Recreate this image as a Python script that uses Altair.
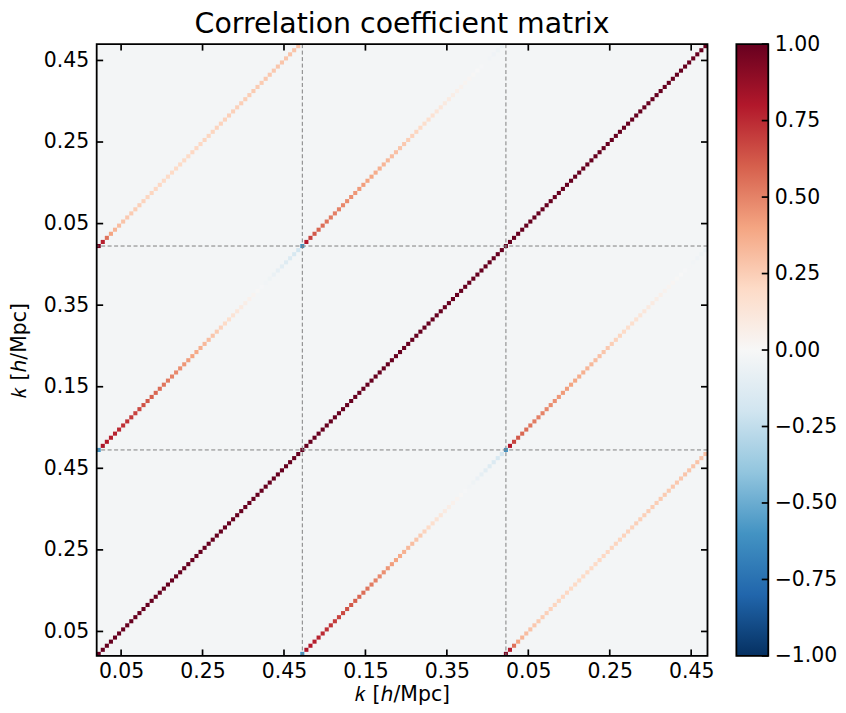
import json
import altair as alt
import pandas as pd

FONT = "DejaVu Sans"

# ---------------- data ----------------
N_BLOCK = 50          # k-bins per multipole block
N_BLOCKS = 3
N_TOTAL = N_BLOCK * N_BLOCKS

# main diagonal (auto-correlation)
diag_main = [1.0] * N_BLOCK

# diagonal of the (block0, block1) cross block
diag_01 = [-0.60, 0.82, 0.80, 0.78, 0.77, 0.75, 0.73, 0.72, 0.70, 0.68,
           0.66, 0.64, 0.62, 0.60, 0.58, 0.56, 0.54, 0.52, 0.50, 0.48,
           0.46, 0.44, 0.42, 0.40, 0.38, 0.36, 0.33, 0.31, 0.28, 0.26,
           0.23, 0.20, 0.17, 0.14, 0.12, 0.09, 0.07, 0.05, 0.03, 0.01,
           -0.01, -0.03, -0.05, -0.07, -0.09, -0.11, -0.13, -0.15, -0.17, -0.19]

# diagonal of the (block0, block2) cross block
diag_02 = [0.95, 0.78, 0.55, 0.40, 0.34, 0.31, 0.29, 0.27, 0.26, 0.25,
           0.24, 0.23, 0.22, 0.22, 0.21, 0.21, 0.20, 0.20, 0.20, 0.20,
           0.20, 0.20, 0.20, 0.21, 0.21, 0.21, 0.22, 0.22, 0.22, 0.23,
           0.23, 0.23, 0.24, 0.24, 0.24, 0.25, 0.25, 0.25, 0.26, 0.26,
           0.26, 0.27, 0.27, 0.27, 0.28, 0.28, 0.28, 0.29, 0.29, 0.30]

# diagonal of the (block1, block2) cross block
diag_12 = [-0.60, 0.80, 0.68, 0.62, 0.58, 0.56, 0.54, 0.52, 0.51, 0.50,
           0.48, 0.47, 0.46, 0.44, 0.43, 0.42, 0.40, 0.39, 0.37, 0.36,
           0.34, 0.33, 0.31, 0.30, 0.28, 0.27, 0.25, 0.23, 0.22, 0.20,
           0.18, 0.17, 0.15, 0.13, 0.12, 0.10, 0.09, 0.07, 0.06, 0.04,
           0.03, 0.02, 0.01, 0.00, -0.01, -0.02, -0.03, -0.04, -0.05, -0.06]

background_value = -0.02

tick_pos = [6, 26, 46, 66, 86, 106, 126, 146]
tick_labels = ["0.05", "0.25", "0.45", "0.15", "0.35", "0.05", "0.25", "0.45"]
block_line_pos = [50.5, 100.5]
cbar_ticks = [-1.0, -0.75, -0.5, -0.25, 0.0, 0.25, 0.5, 0.75, 1.0]

rdbu_domain = [-1.0, -0.8, -0.6, -0.4, -0.2, 0.0, 0.2, 0.4, 0.6, 0.8, 1.0]
rdbu_colors = ["#053061", "#2166ac", "#4393c3", "#92c5de", "#d1e5f0", "#f7f7f7",
               "#fddbc7", "#f4a582", "#d6604d", "#b2182b", "#67001f"]

TITLE = "Correlation coefficient matrix"
AX_TITLE = "\U0001D458 [\u210E/Mpc]"

assert len(diag_01) == len(diag_02) == len(diag_12) == N_BLOCK

# ---------------- tables ----------------
blocks = [(0, 0, diag_main), (1, 1, diag_main), (2, 2, diag_main),
          (1, 0, diag_01), (0, 1, diag_01),
          (2, 0, diag_02), (0, 2, diag_02),
          (2, 1, diag_12), (1, 2, diag_12)]
rows = []
for bx, by, vals in blocks:
    for i, v in enumerate(vals):
        x0 = bx * N_BLOCK + i
        y0 = by * N_BLOCK + i
        rows.append({"x": x0, "x2": x0 + 1, "y": y0, "y2": y0 + 1, "v": v})
cells_df = pd.DataFrame(rows)
bg_df = pd.DataFrame({"x": [0], "x2": [N_TOTAL], "y": [0], "y2": [N_TOTAL], "v": [background_value]})
ticks_df = pd.DataFrame({"t": tick_pos})
lines_df = pd.DataFrame({"p": block_line_pos})
dummy_df = pd.DataFrame({"d": [0]})

# ---------------- layout ----------------
W, H = 613, 614
CB_W = 32
TICK_LEN = 6.5
TICK_W = 1.7
FRAME_W = 1.8
LABEL_SIZE = 20.5

label_expr = "{}[indexof({}, datum.value)]".format(json.dumps(tick_labels), json.dumps(tick_pos))

xscale = alt.Scale(domain=[0, N_TOTAL], nice=False, zero=False)
yscale = alt.Scale(domain=[0, N_TOTAL], nice=False, zero=False)
cscale = alt.Scale(domain=rdbu_domain, range=rdbu_colors, interpolate="rgb")

common_axis = dict(values=tick_pos, labelExpr=label_expr, ticks=False, domain=False, grid=False,
                   labelFontSize=LABEL_SIZE, labelFont=FONT, labelColor="black",
                   labelFlush=False, labelOverlap=False,
                   title=AX_TITLE, titleFontSize=LABEL_SIZE, titleFont=FONT,
                   titleFontWeight="normal", titleColor="black")
xaxis = alt.Axis(orient="bottom", labelPadding=6, titlePadding=2, **common_axis)
yaxis = alt.Axis(orient="left", labelPadding=8, titlePadding=14, **common_axis)

X = alt.X("x:Q", scale=xscale, axis=xaxis)
Y = alt.Y("y:Q", scale=yscale, axis=yaxis)

bg = alt.Chart(bg_df).mark_rect().encode(
    x=X, x2="x2:Q", y=Y, y2="y2:Q",
    color=alt.Color("v:Q", scale=cscale, legend=None))
cells = alt.Chart(cells_df).mark_rect().encode(
    x=X, x2="x2:Q", y=Y, y2="y2:Q",
    color=alt.Color("v:Q", scale=cscale, legend=None))

dash = dict(color="#808080", strokeWidth=1, strokeDash=[4, 2.5])
vlines = alt.Chart(lines_df).mark_rule(**dash).encode(x=alt.X("p:Q", scale=xscale, axis=xaxis))
hlines = alt.Chart(lines_df).mark_rule(**dash).encode(y=alt.Y("p:Q", scale=yscale, axis=yaxis))

frame = alt.Chart(dummy_df).mark_rect(fillOpacity=0, stroke="black", strokeWidth=FRAME_W).encode(
    x=alt.value(0), x2=alt.value(W), y=alt.value(0), y2=alt.value(H))

tk = dict(color="black", strokeWidth=TICK_W)
tx = alt.X("t:Q", scale=xscale, axis=xaxis)
ty = alt.Y("t:Q", scale=yscale, axis=yaxis)
ticks_b = alt.Chart(ticks_df).mark_rule(**tk).encode(x=tx, y=alt.value(H), y2=alt.value(H - TICK_LEN))
ticks_t = alt.Chart(ticks_df).mark_rule(**tk).encode(x=tx, y=alt.value(0), y2=alt.value(TICK_LEN))
ticks_l = alt.Chart(ticks_df).mark_rule(**tk).encode(y=ty, x=alt.value(0), x2=alt.value(TICK_LEN))
ticks_r = alt.Chart(ticks_df).mark_rule(**tk).encode(y=ty, x=alt.value(W), x2=alt.value(W - TICK_LEN))

title_mark = alt.Chart(dummy_df).mark_text(
    text=TITLE, font=FONT, fontSize=28.5, color="black", align="center", baseline="alphabetic"
).encode(x=alt.value(W / 2), y=alt.value(-11))

main = alt.layer(bg, cells, vlines, hlines, frame, ticks_b, ticks_t, ticks_l, ticks_r, title_mark).properties(
    width=W, height=H)

# ---------------- colorbar ----------------
cb_df = pd.DataFrame({"lo": [rdbu_domain[0]], "hi": [rdbu_domain[-1]]})
cb_ticks_df = pd.DataFrame({"t": cbar_ticks})
cb_scale = alt.Scale(domain=[rdbu_domain[0], rdbu_domain[-1]], nice=False, zero=False)
cb_axis = alt.Axis(orient="right", values=cbar_ticks, format=".2f", ticks=False, domain=False, grid=False,
                   labelFontSize=LABEL_SIZE, labelFont=FONT, labelColor="black", labelPadding=6,
                   labelFlush=False, labelOverlap=False, title=None)
gradient = alt.Gradient(
    gradient="linear",
    stops=[alt.GradientStop(color=c, offset=(d - rdbu_domain[0]) / (rdbu_domain[-1] - rdbu_domain[0]))
           for d, c in zip(rdbu_domain, rdbu_colors)],
    x1=0, x2=0, y1=1, y2=0)
cb_rect = alt.Chart(cb_df).mark_rect(color=gradient).encode(
    x=alt.value(0), x2=alt.value(CB_W),
    y=alt.Y("lo:Q", scale=cb_scale, axis=cb_axis), y2="hi:Q")
cb_frame = alt.Chart(dummy_df).mark_rect(fillOpacity=0, stroke="black", strokeWidth=FRAME_W).encode(
    x=alt.value(0), x2=alt.value(CB_W), y=alt.value(0), y2=alt.value(H))
cb_ticks = alt.Chart(cb_ticks_df).mark_rule(**tk).encode(
    y=alt.Y("t:Q", scale=cb_scale, axis=cb_axis), x=alt.value(CB_W), x2=alt.value(CB_W - TICK_LEN))
cbar = alt.layer(cb_rect, cb_frame, cb_ticks).properties(width=CB_W, height=H)

chart = alt.hconcat(main, cbar, spacing=20).properties(
    padding={"left": 0, "top": 0, "right": 0, "bottom": 0}
).configure_view(strokeWidth=0).configure(background="white")

chart.save("out.html", embed_options={"renderer": "svg", "actions": False})
